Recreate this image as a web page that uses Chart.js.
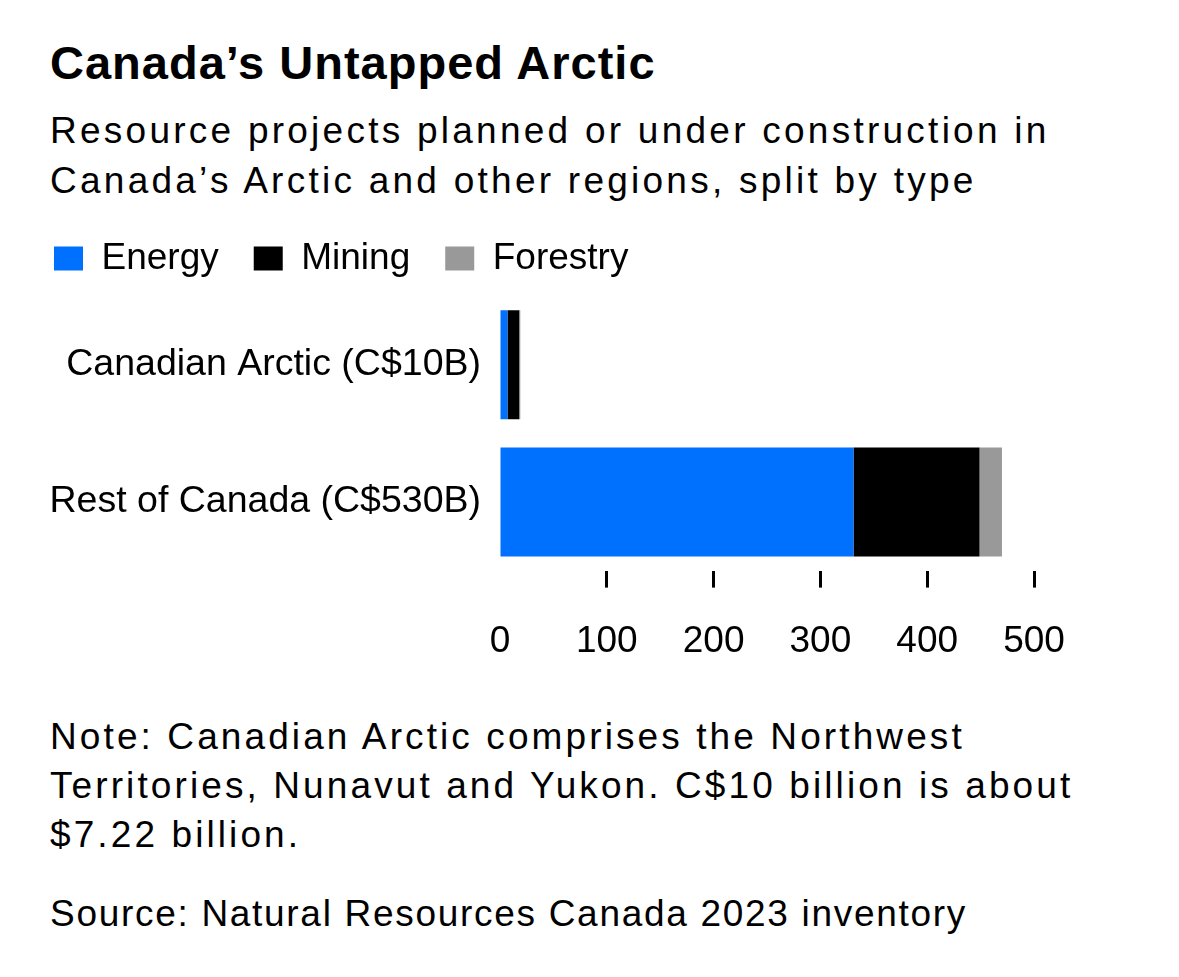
<!DOCTYPE html>
<html>
<head>
<meta charset="utf-8">
<script src="https://cdn.jsdelivr.net/npm/chart.js@4.4.1/dist/chart.umd.min.js"></script>
<style>
  body { margin: 0; background: #fff; font-family: "Liberation Sans", Arial, sans-serif; color: #000; }
  .wrap { position: relative; width: 1179px; height: 977px; }
  #title { position: absolute; left: 50px; top: 35px; font-size: 47px; font-weight: bold; letter-spacing: 1px; }
  #subtitle { position: absolute; left: 50px; top: 106px; font-size: 37px; line-height: 50px; letter-spacing: 3.25px; }
  #chartBox { position: absolute; left: 19px; top: 205px; width: 1127px; height: 491px; }
  #note { position: absolute; left: 50px; top: 712px; font-size: 37px; line-height: 49px; letter-spacing: 3.1px; }
  #source { position: absolute; left: 50px; top: 893px; font-size: 37px; letter-spacing: 1.7px; }
</style>
</head>
<body>
<div class="wrap">
  <div id="title">Canada’s Untapped Arctic</div>
  <div id="subtitle">Resource projects planned or under construction in<br>Canada’s Arctic and other regions, split by type</div>
  <div id="chartBox"><canvas id="chart" width="1127" height="491"></canvas></div>
  <div id="note">Note: Canadian Arctic comprises the Northwest<br>Territories, Nunavut and Yukon. C$10 billion is about<br>$7.22 billion.</div>
  <div id="source">Source: Natural Resources Canada 2023 inventory</div>
</div>
<script>
// values in C$ billions
const regions = ["Canadian Arctic (C$10B)", "Rest of Canada (C$530B)"];
const energy = [7, 331];
const mining = [11, 118];
const forestry = [1, 21];
const xTicks = [0, 100, 200, 300, 400, 500];

window.addEventListener("DOMContentLoaded", function() {
    const ctx = document.getElementById("chart");

    // a bit of room between the legend and the bars
    const legendGap = {
        id: "legendGap",
        beforeInit(chart) {
            const fit = chart.legend.fit;
            chart.legend.fit = function() {
                fit.bind(chart.legend)();
                this.height += 9;
            };
        }
    };

    const data = {
        labels: regions,
        datasets: [
            { label: "Energy", data: energy, backgroundColor: "#0070ff" },
            { label: "Mining", data: mining, backgroundColor: "#000000" },
            { label: "Forestry", data: forestry, backgroundColor: "#999999" }
        ]
    };

    const config = {
        type: "bar",
        data: data,
        plugins: [legendGap],
        options: {
            indexAxis: "y",
            responsive: false,
            animation: false,
            layout: { padding: { right: 112 } },
            datasets: {
                bar: { categoryPercentage: 1, barPercentage: 0.794, borderWidth: 0 }
            },
            plugins: {
                tooltip: { enabled: false },
                legend: {
                    position: "top",
                    align: "start",
                    labels: {
                        boxWidth: 29,
                        boxHeight: 24,
                        padding: 35,
                        color: "#000",
                        font: { family: "Liberation Sans", size: 37 }
                    }
                }
            },
            scales: {
                x: {
                    stacked: true,
                    min: 0,
                    max: 500,
                    afterBuildTicks: function(scale) {
                        scale.ticks = xTicks.map(v => ({ value: v }));
                    },
                    border: { display: false },
                    grid: {
                        drawOnChartArea: false,
                        drawTicks: true,
                        tickLength: 17,
                        tickWidth: 3,
                        tickColor: c => (c.tick && c.tick.value === 0) ? "rgba(0,0,0,0)" : "#000"
                    },
                    ticks: {
                        color: "#000",
                        padding: 32,
                        maxRotation: 0,
                        font: { family: "Liberation Sans", size: 37 }
                    }
                },
                y: {
                    stacked: true,
                    border: { display: false },
                    grid: { display: false, drawTicks: false },
                    afterFit: function(scale) { scale.width = 481; },
                    ticks: {
                        color: "#000",
                        padding: 19,
                        font: { family: "Liberation Sans", size: 37.5 }
                    }
                }
            }
        }
    };
    new Chart(ctx, config);
});
</script>
</body>
</html>
